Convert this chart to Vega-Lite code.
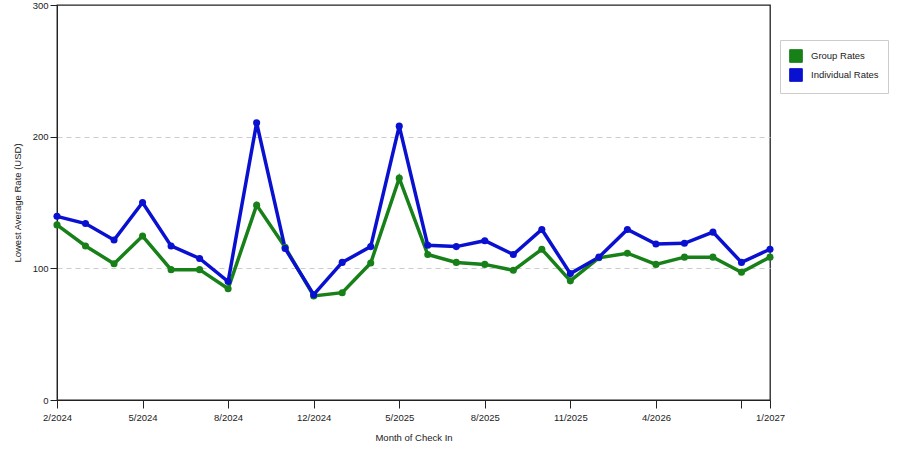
{
  "$schema": "https://vega.github.io/schema/vega-lite/v6.json",
  "width": 713,
  "height": 395,
  "autosize": "none",
  "padding": {"left": 57, "top": 5, "right": 130, "bottom": 50},
  "background": "white",
  "config": {
    "font": "Liberation Sans",
    "view": {"stroke": "#222", "strokeWidth": 1.3},
    "axis": {
      "labelFont": "Liberation Sans",
      "titleFont": "Liberation Sans",
      "labelFontSize": 9.5,
      "titleFontSize": 9.5,
      "labelColor": "#222",
      "titleColor": "#222",
      "titleFontWeight": "normal",
      "domainColor": "#222",
      "tickColor": "#222"
    }
  },
  "data": {
    "values": [
      {"month": "2/2024", "series": "Group Rates", "rate": 133},
      {"month": "3/2024", "series": "Group Rates", "rate": 117},
      {"month": "4/2024", "series": "Group Rates", "rate": 103.5},
      {"month": "5/2024", "series": "Group Rates", "rate": 124.5},
      {"month": "6/2024", "series": "Group Rates", "rate": 99},
      {"month": "7/2024", "series": "Group Rates", "rate": 99},
      {"month": "8/2024", "series": "Group Rates", "rate": 84.5},
      {"month": "9/2024", "series": "Group Rates", "rate": 148},
      {"month": "10/2024", "series": "Group Rates", "rate": 116},
      {"month": "12/2024", "series": "Group Rates", "rate": 79},
      {"month": "2/2025", "series": "Group Rates", "rate": 81.5},
      {"month": "4/2025", "series": "Group Rates", "rate": 104},
      {"month": "5/2025", "series": "Group Rates", "rate": 168.5},
      {"month": "6/2025", "series": "Group Rates", "rate": 110.5},
      {"month": "7/2025", "series": "Group Rates", "rate": 104.5},
      {"month": "8/2025", "series": "Group Rates", "rate": 103},
      {"month": "9/2025", "series": "Group Rates", "rate": 98.5},
      {"month": "10/2025", "series": "Group Rates", "rate": 114.5},
      {"month": "11/2025", "series": "Group Rates", "rate": 90.5},
      {"month": "1/2026", "series": "Group Rates", "rate": 108},
      {"month": "3/2026", "series": "Group Rates", "rate": 111.5},
      {"month": "4/2026", "series": "Group Rates", "rate": 103},
      {"month": "6/2026", "series": "Group Rates", "rate": 108.5},
      {"month": "8/2026", "series": "Group Rates", "rate": 108.5},
      {"month": "11/2026", "series": "Group Rates", "rate": 97},
      {"month": "1/2027", "series": "Group Rates", "rate": 108.5},
      {"month": "2/2024", "series": "Individual Rates", "rate": 139.5},
      {"month": "3/2024", "series": "Individual Rates", "rate": 134},
      {"month": "4/2024", "series": "Individual Rates", "rate": 121.5},
      {"month": "5/2024", "series": "Individual Rates", "rate": 150},
      {"month": "6/2024", "series": "Individual Rates", "rate": 117},
      {"month": "7/2024", "series": "Individual Rates", "rate": 107.5},
      {"month": "8/2024", "series": "Individual Rates", "rate": 90},
      {"month": "9/2024", "series": "Individual Rates", "rate": 210.5},
      {"month": "10/2024", "series": "Individual Rates", "rate": 115},
      {"month": "12/2024", "series": "Individual Rates", "rate": 80},
      {"month": "2/2025", "series": "Individual Rates", "rate": 104.5},
      {"month": "4/2025", "series": "Individual Rates", "rate": 116.5},
      {"month": "5/2025", "series": "Individual Rates", "rate": 208},
      {"month": "6/2025", "series": "Individual Rates", "rate": 117.5},
      {"month": "7/2025", "series": "Individual Rates", "rate": 116.5},
      {"month": "8/2025", "series": "Individual Rates", "rate": 121},
      {"month": "9/2025", "series": "Individual Rates", "rate": 110.5},
      {"month": "10/2025", "series": "Individual Rates", "rate": 129.5},
      {"month": "11/2025", "series": "Individual Rates", "rate": 96},
      {"month": "1/2026", "series": "Individual Rates", "rate": 108.5},
      {"month": "3/2026", "series": "Individual Rates", "rate": 129.5},
      {"month": "4/2026", "series": "Individual Rates", "rate": 118.5},
      {"month": "6/2026", "series": "Individual Rates", "rate": 119},
      {"month": "8/2026", "series": "Individual Rates", "rate": 127.5},
      {"month": "11/2026", "series": "Individual Rates", "rate": 104.5},
      {"month": "1/2027", "series": "Individual Rates", "rate": 114.5}
    ]
  },
  "encoding": {
    "x": {
      "field": "month",
      "type": "ordinal",
      "sort": null,
      "scale": {"type": "point", "padding": 0},
      "title": "Month of Check In",
      "axis": {
        "labelAngle": 0,
        "values": ["2/2024", "5/2024", "8/2024", "12/2024", "5/2025", "8/2025", "11/2025", "4/2026", "11/2026", "1/2027"],
        "labelExpr": "datum.value == '11/2026' ? '' : datum.label",
        "tickSize": 8,
        "labelPadding": 4,
        "titlePadding": 11,
        "grid": false
      }
    },
    "y": {
      "field": "rate",
      "type": "quantitative",
      "scale": {"domain": [0, 300]},
      "title": "Lowest Average Rate (USD)",
      "axis": {
        "values": [0, 100, 200, 300],
        "tickSize": 7,
        "labelPadding": 2,
        "titlePadding": 10,
        "grid": true,
        "gridColor": "#cccccc",
        "gridDash": [5, 4],
        "gridWidth": 1,
        "gridOpacity": {"condition": {"test": "datum.value == 300 || datum.value == 0", "value": 0}, "value": 1}
      }
    },
    "color": {
      "field": "series",
      "type": "nominal",
      "scale": {"domain": ["Group Rates", "Individual Rates"], "range": ["#188018", "#0a10d0"]},
      "legend": {
        "title": null,
        "orient": "none",
        "legendX": 723,
        "legendY": 35,
        "padding": 9,
        "strokeColor": "#cccccc",
        "fillColor": "white",
        "symbolType": "square",
        "symbolSize": 160,
        "symbolStrokeWidth": 1,
        "labelFontSize": 9.5,
        "labelFont": "Liberation Sans",
        "labelColor": "#222",
        "labelOffset": 8,
        "rowPadding": 1,
        "encode": {
          "symbols": {
            "update": {
              "fill": {"scale": "color", "field": "value"},
              "stroke": {"value": "#333"},
              "opacity": {"value": 1}
            }
          }
        }
      }
    }
  },
  "layer": [
    {
      "mark": {"type": "line", "strokeWidth": 3.5},
      "encoding": {"order": {"value": null}}
    },
    {
      "mark": {"type": "point", "filled": true, "size": 50, "opacity": 1}
    }
  ]
}
